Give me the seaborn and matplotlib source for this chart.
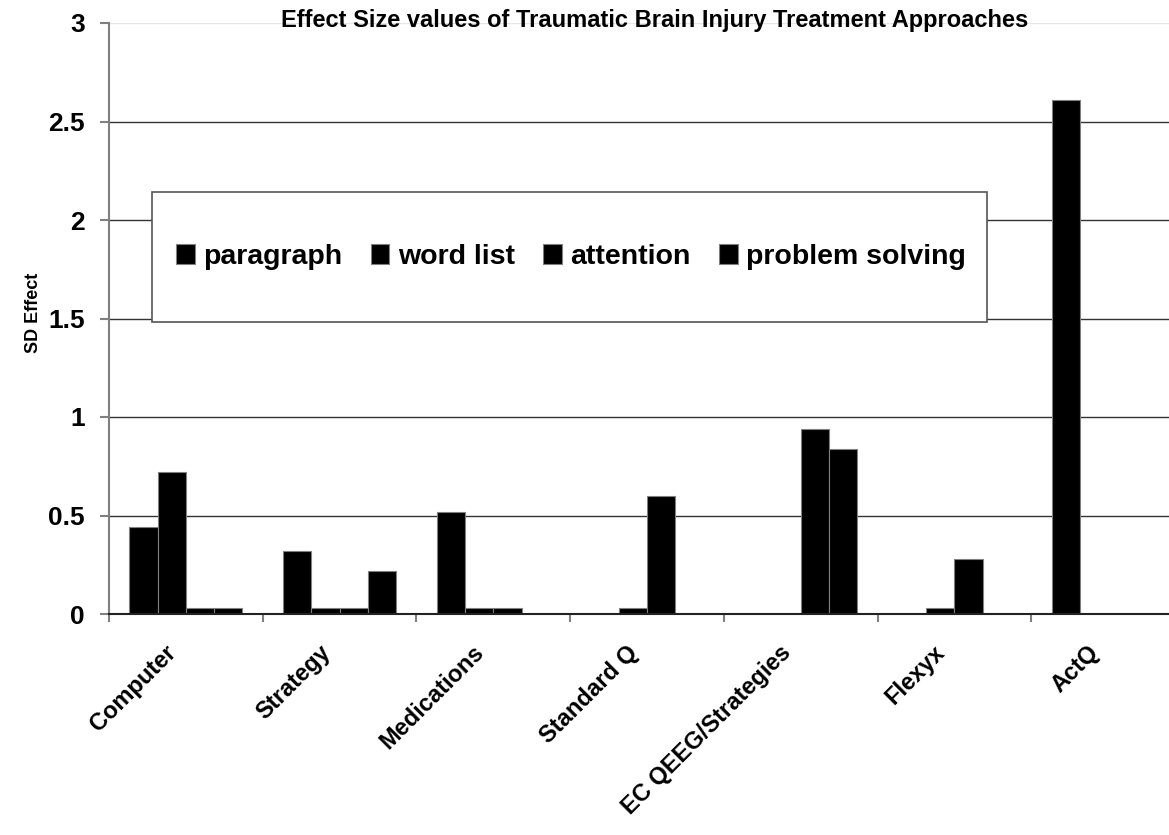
import numpy as np
import pandas as pd
import seaborn as sns
import matplotlib.pyplot as plt
from matplotlib.patches import Rectangle
from matplotlib.ticker import FuncFormatter
from matplotlib.transforms import ScaledTranslation

approaches = ['Computer', 'Strategy', 'Medications', 'Standard Q',
              'EC QEEG/Strategies', 'Flexyx', 'ActQ']
measures = ['paragraph', 'word list', 'attention', 'problem solving']
paragraph = [0.44, 0.32, 0.52, 0, 0, 0, 2.61]
word_list = [0.72, 0.03, 0.03, 0.03, 0, 0.03, 0]
attention = [0.03, 0.03, 0.03, 0.60, 0.94, 0.28, 0]
problem_solving = [0.03, 0.22, 0, 0, 0.84, 0, 0]
y_ticks = [0, 0.5, 1, 1.5, 2, 2.5, 3]

rows = []
for m, vals in zip(measures, [paragraph, word_list, attention, problem_solving]):
    for a, v in zip(approaches, vals):
        rows.append((a, m, v))
df = pd.DataFrame(rows, columns=['approach', 'measure', 'effect'])

sns.set_style('white')
plt.rcParams['font.family'] = ['Liberation Sans', 'DejaVu Sans']
plt.rcParams['text.color'] = 'black'
plt.rcParams['axes.labelcolor'] = 'black'
plt.rcParams['xtick.labelcolor'] = 'black'
plt.rcParams['ytick.labelcolor'] = 'black'

W, H = 1169, 835
fig = plt.figure(figsize=(W / 100, H / 100), dpi=100)
ax = fig.add_axes([109 / W, 1 - 614 / H, 1076 / W, 591 / H])

sns.barplot(data=df, x='approach', y='effect', hue='measure', order=approaches,
            hue_order=measures, palette=['black'] * 4, width=0.735, saturation=1,
            edgecolor='#808080', linewidth=0.8, errorbar=None, ax=ax)

handles, labels = ax.get_legend_handles_labels()
ax.get_legend().remove()

# axes, ticks
n = len(approaches)
ax.set_xlim(-0.5, n - 0.5)
ax.set_ylim(0, 3)
ax.set_xticks(np.arange(-0.5, n, 1))
ax.set_xticklabels([])
ax.tick_params(axis='x', which='major', length=6, width=1.5, color='#808080', bottom=True)

# category labels, rotated like the Excel original
lab_tf = ax.get_xaxis_transform() + ScaledTranslation(-0.13, -0.35, fig.dpi_scale_trans)
for i, name in enumerate(approaches):
    ax.text(i, 0, name, transform=lab_tf, rotation=45, ha='right', va='center',
            rotation_mode='anchor', fontsize=17, fontweight='bold', clip_on=False)

ax.set_yticks(y_ticks)
ax.yaxis.set_major_formatter(FuncFormatter(lambda v, p: f'{v:g}'))
ax.tick_params(axis='y', length=6.5, width=1.5, color='#808080', pad=11, labelsize=19, left=True)
for lab in ax.get_yticklabels():
    lab.set_fontweight('bold')
ax.set_xlabel('')
ax.set_ylabel('SD Effect', fontsize=13, fontweight='bold')
ax.yaxis.set_label_coords(-0.062, 0.51)

ax.yaxis.grid(True, color='#333333', lw=1)
ax.xaxis.grid(False)
ax.get_ygridlines()[-1].set_color('#e6e6e6')
ax.set_axisbelow(True)
ax.spines['top'].set_visible(False)
ax.spines['right'].set_visible(False)
ax.spines['left'].set_color('#808080')
ax.spines['left'].set_linewidth(1.5)
ax.spines['bottom'].set_color('#222222')
ax.spines['bottom'].set_linewidth(1.5)

# legend box
ax.add_patch(Rectangle((152 / W, 1 - 322 / H), 835 / W, 130 / H, transform=fig.transFigure,
                       facecolor='white', edgecolor='#555555', lw=1.2, zorder=3))
ax.legend(handles, labels, ncol=4, frameon=False, loc='center',
          bbox_to_anchor=(571 / W, 1 - 257 / H), bbox_transform=fig.transFigure,
          prop={'weight': 'bold', 'size': 20.5}, handlelength=0.65, handleheight=0.65,
          handletextpad=0.3, columnspacing=1.0)

fig.text(655 / W, 1 - 21 / H, 'Effect Size values of Traumatic Brain Injury Treatment Approaches',
         ha='center', va='center', fontsize=17, fontweight='bold')

fig.savefig('out.png', dpi=100)
